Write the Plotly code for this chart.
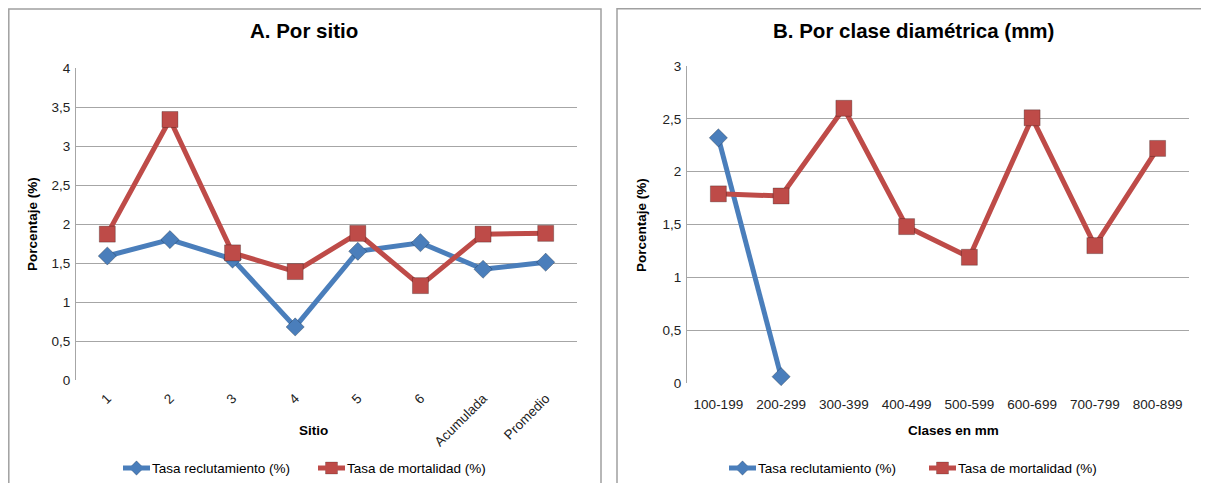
import plotly.graph_objects as go

# Panel A
sitios = ["1", "2", "3", "4", "5", "6", "Acumulada", "Promedio"]
recl_sitio = [1.59, 1.80, 1.55, 0.68, 1.65, 1.76, 1.42, 1.51]
mort_sitio = [1.87, 3.34, 1.63, 1.39, 1.88, 1.21, 1.87, 1.88]

# Panel B
clases = ["100-199", "200-299", "300-399", "400-499", "500-599", "600-699", "700-799", "800-899"]
recl_clase = [2.32, 0.06, None, None, None, None, None, None]
mort_clase = [1.79, 1.77, 2.60, 1.48, 1.19, 2.51, 1.30, 2.22]

name_recl = "Tasa reclutamiento (%)"
name_mort = "Tasa de mortalidad (%)"

BLUE = "#4A7EBB"
RED = "#BE4B48"
FONT = "Liberation Sans, Arial, sans-serif"

OFF = 8
W, H = 1209 - OFF, 483 - OFF

def fx(x):
    return (x - OFF) / W

def fy(y):
    return 1 - (y - OFF) / H

fig = go.Figure()

def add_series(x, y, xa, ya, name, color, symbol, size):
    fig.add_trace(go.Scatter(
        x=x, y=y, xaxis=xa, yaxis=ya, name=name, mode="lines+markers",
        line=dict(color=color, width=5),
        marker=dict(symbol=symbol, size=size, color=color,
                    line=dict(color="rgba(0,0,0,0.25)", width=1)),
        showlegend=False, connectgaps=False, cliponaxis=False,
    ))

add_series(sitios, recl_sitio, "x", "y", name_recl, BLUE, "diamond", 14)
add_series(sitios, mort_sitio, "x", "y", name_mort, RED, "square", 16)
add_series(clases, recl_clase, "x2", "y2", name_recl, BLUE, "diamond", 14)
add_series(clases, mort_clase, "x2", "y2", name_mort, RED, "square", 16)

grid = "#a6a6a6"
tickfont = dict(family=FONT, size=13.5, color="#222")

common_y = dict(showgrid=True, gridcolor=grid, gridwidth=1, showline=True,
                linecolor=grid, linewidth=1, ticks="", tickfont=tickfont,
                zeroline=False, dtick=0.5, fixedrange=True, ticklabelstandoff=2,
                automargin=False)
common_x = dict(showgrid=False, showline=False, ticks="", tickfont=tickfont,
                type="category", fixedrange=True, range=[-0.5, 7.5],
                automargin=False)

fig.update_layout(
    width=W, height=H, autosize=False,
    margin=dict(l=0, r=0, t=0, b=0, pad=0, autoexpand=False),
    paper_bgcolor="white", plot_bgcolor="rgba(0,0,0,0)",
    separators=",.",
    font=dict(family=FONT, size=13.5, color="#000"),
    showlegend=False,
    xaxis=dict(domain=[fx(76), fx(577)], anchor="y", tickangle=-45,
               ticklabelstandoff=7, **common_x),
    yaxis=dict(domain=[fy(380), fy(68)], anchor="x", range=[0, 4], **common_y),
    xaxis2=dict(domain=[fx(687), fx(1189)], anchor="y2", tickangle=0,
                ticklabelstandoff=11, **common_x),
    yaxis2=dict(domain=[fy(383), fy(66)], anchor="x2", range=[0, 3], **common_y),
    xaxis3=dict(domain=[0, 1], range=[0, 1], visible=False, anchor="y3",
                fixedrange=True, automargin=False),
    yaxis3=dict(domain=[0, 1], range=[0, 1], visible=False, anchor="x3",
                fixedrange=True, automargin=False),
)

# Panel borders
fig.add_shape(type="rect", xref="paper", yref="paper",
              x0=fx(8.8), x1=fx(601), y0=-0.02, y1=fy(9),
              line=dict(color="#a0a0a0", width=1.5), layer="below")
fig.add_shape(type="rect", xref="paper", yref="paper",
              x0=fx(617), x1=1.02, y0=-0.02, y1=fy(8.8),
              line=dict(color="#a0a0a0", width=1.5), layer="below")

def text(t, x, y, size, angle=0, xanchor="center"):
    fig.add_annotation(text=t, xref="paper", yref="paper", x=fx(x), y=fy(y),
                       xanchor=xanchor, yanchor="middle", showarrow=False,
                       textangle=angle, font=dict(family=FONT, size=size, color="#000"))

text("<b>A. Por sitio</b>", 304, 31, 20.5)
text("<b>B. Por clase diamétrica (mm)</b>", 913, 31, 20.5)
text("<b>Porcentaje (%)</b>", 33, 224, 13.5, angle=-90)
text("<b>Porcentaje (%)</b>", 641, 225, 13.5, angle=-90)
text("<b>Sitio</b>", 313, 430, 13.5)
text("<b>Clases en mm</b>", 953, 430, 13.5)

def legend_item(x_line, y, color, symbol, size, label):
    fig.add_shape(type="line", xref="paper", yref="paper",
                  x0=fx(x_line), x1=fx(x_line + 27), y0=fy(y), y1=fy(y),
                  line=dict(color=color, width=5))
    fig.add_trace(go.Scatter(x=[fx(x_line + 13.5)], y=[fy(y)],
                             xaxis="x3", yaxis="y3", mode="markers",
                             marker=dict(symbol=symbol, size=size, color=color,
                                         line=dict(color="rgba(0,0,0,0.2)", width=1)),
                             showlegend=False, hoverinfo="skip", cliponaxis=False))
    text(label, x_line + 27, y, 13.5, xanchor="left")

legend_item(123, 468, BLUE, "diamond", 11, name_recl)
legend_item(318, 468, RED, "square", 12, name_mort)
legend_item(729, 468, BLUE, "diamond", 11, name_recl)
legend_item(929, 468, RED, "square", 12, name_mort)

fig.write_html("out.html")
